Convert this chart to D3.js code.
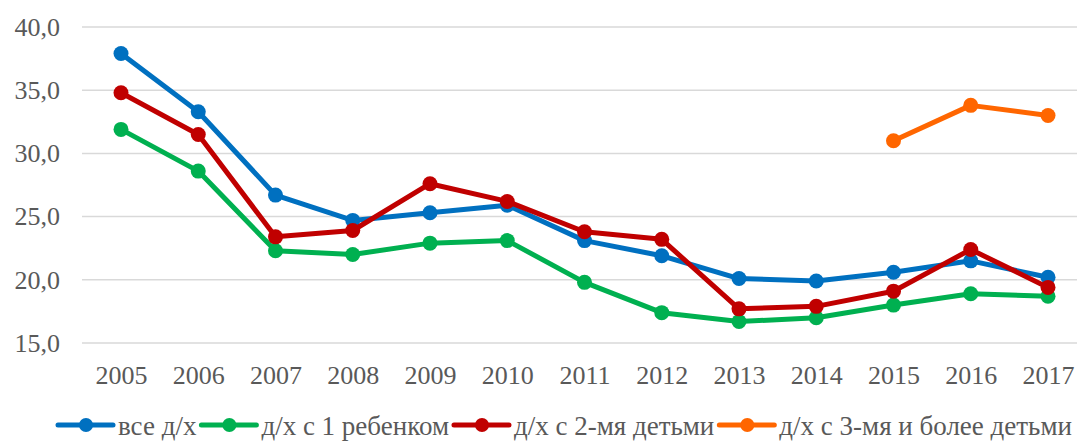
<!DOCTYPE html>
<html><head><meta charset="utf-8">
<script src="https://cdn.jsdelivr.net/npm/d3@7"></script>
<style>body{margin:0;background:#fff}svg{display:block}text{font-family:"Liberation Serif","Times New Roman",serif}</style>
</head><body>
<svg id="chart" width="1077" height="441"></svg>
<script>
const years = [2005,2006,2007,2008,2009,2010,2011,2012,2013,2014,2015,2016,2017];
const seriesNames = ["все д/х","д/х с 1 ребенком","д/х с 2-мя детьми","д/х с 3-мя и более детьми"];
const seriesColors = ["#0070C0","#00B050","#C00000","#FF6600"];
const allHH = [37.9,33.3,26.7,24.7,25.3,25.9,23.1,21.9,20.1,19.9,20.6,21.5,20.2];
const oneChild = [31.9,28.6,22.3,22.0,22.9,23.1,19.8,17.4,16.7,17.0,18.0,18.9,18.7];
const twoChildren = [34.8,31.5,23.4,23.9,27.6,26.2,23.8,23.2,17.7,17.9,19.1,22.4,19.4];
const threePlus = [null,null,null,null,null,null,null,null,null,null,31.0,33.8,33.0];
const yTicks = [15,20,25,30,35,40];

const svg = d3.select("#chart");
const ff = '"Liberation Serif",serif';
const x = d3.scalePoint().domain(years).range([121,1048]);
const y = d3.scaleLinear().domain([15,40]).range([343,27]);
const fmt = v => d3.format(".1f")(v).replace(".", ",");

// grid
svg.append("g").selectAll("line").data(yTicks).join("line")
  .attr("x1",82).attr("x2",1077)
  .attr("y1",d=>y(d)).attr("y2",d=>y(d))
  .attr("stroke","#d9d9d9").attr("stroke-width",1.5);

// y axis
const yAxis = svg.append("g").attr("transform","translate(60,0)")
  .call(d3.axisLeft(y).tickValues(yTicks).tickFormat(fmt).tickSize(0).tickPadding(0));
yAxis.select(".domain").remove();
yAxis.selectAll("text").style("font-family",ff).attr("font-size",26).attr("fill","#595959");

// x axis
const xAxis = svg.append("g").attr("transform","translate(0,359)")
  .call(d3.axisBottom(x).tickSize(0).tickPadding(0));
xAxis.select(".domain").remove();
xAxis.selectAll("text").style("font-family",ff).attr("font-size",26).attr("fill","#595959").attr("dy","0.95em");

const data = [allHH, oneChild, twoChildren, threePlus];
const line = d3.line().defined(d=>d.v!=null).x(d=>x(d.year)).y(d=>y(d.v));
data.forEach((vals,i)=>{
  const pts = years.map((yr,j)=>({year:yr,v:vals[j]}));
  const g = svg.append("g");
  g.append("path").datum(pts).attr("d",line).attr("fill","none")
    .attr("stroke",seriesColors[i]).attr("stroke-width",5).attr("stroke-linejoin","round");
  g.selectAll("circle").data(pts.filter(d=>d.v!=null)).join("circle")
    .attr("cx",d=>x(d.year)).attr("cy",d=>y(d.v)).attr("r",7.5).attr("fill",seriesColors[i]);
});

// legend
const leg = svg.append("g");
let lx = 58;
const ly = 425;
seriesNames.forEach((name,i)=>{
  const g = leg.append("g");
  g.append("line").attr("x1",lx).attr("x2",lx+55).attr("y1",ly).attr("y2",ly)
    .attr("stroke",seriesColors[i]).attr("stroke-width",5).attr("stroke-linecap","round");
  g.append("circle").attr("cx",lx+28).attr("cy",ly).attr("r",7).attr("fill",seriesColors[i]);
  const t = g.append("text").attr("x",lx+60).attr("y",435).text(name)
    .style("font-family",ff).attr("font-size",27).attr("fill","#595959");
  lx = lx + 60 + t.node().getComputedTextLength() + 5;
});
</script>
</body></html>
